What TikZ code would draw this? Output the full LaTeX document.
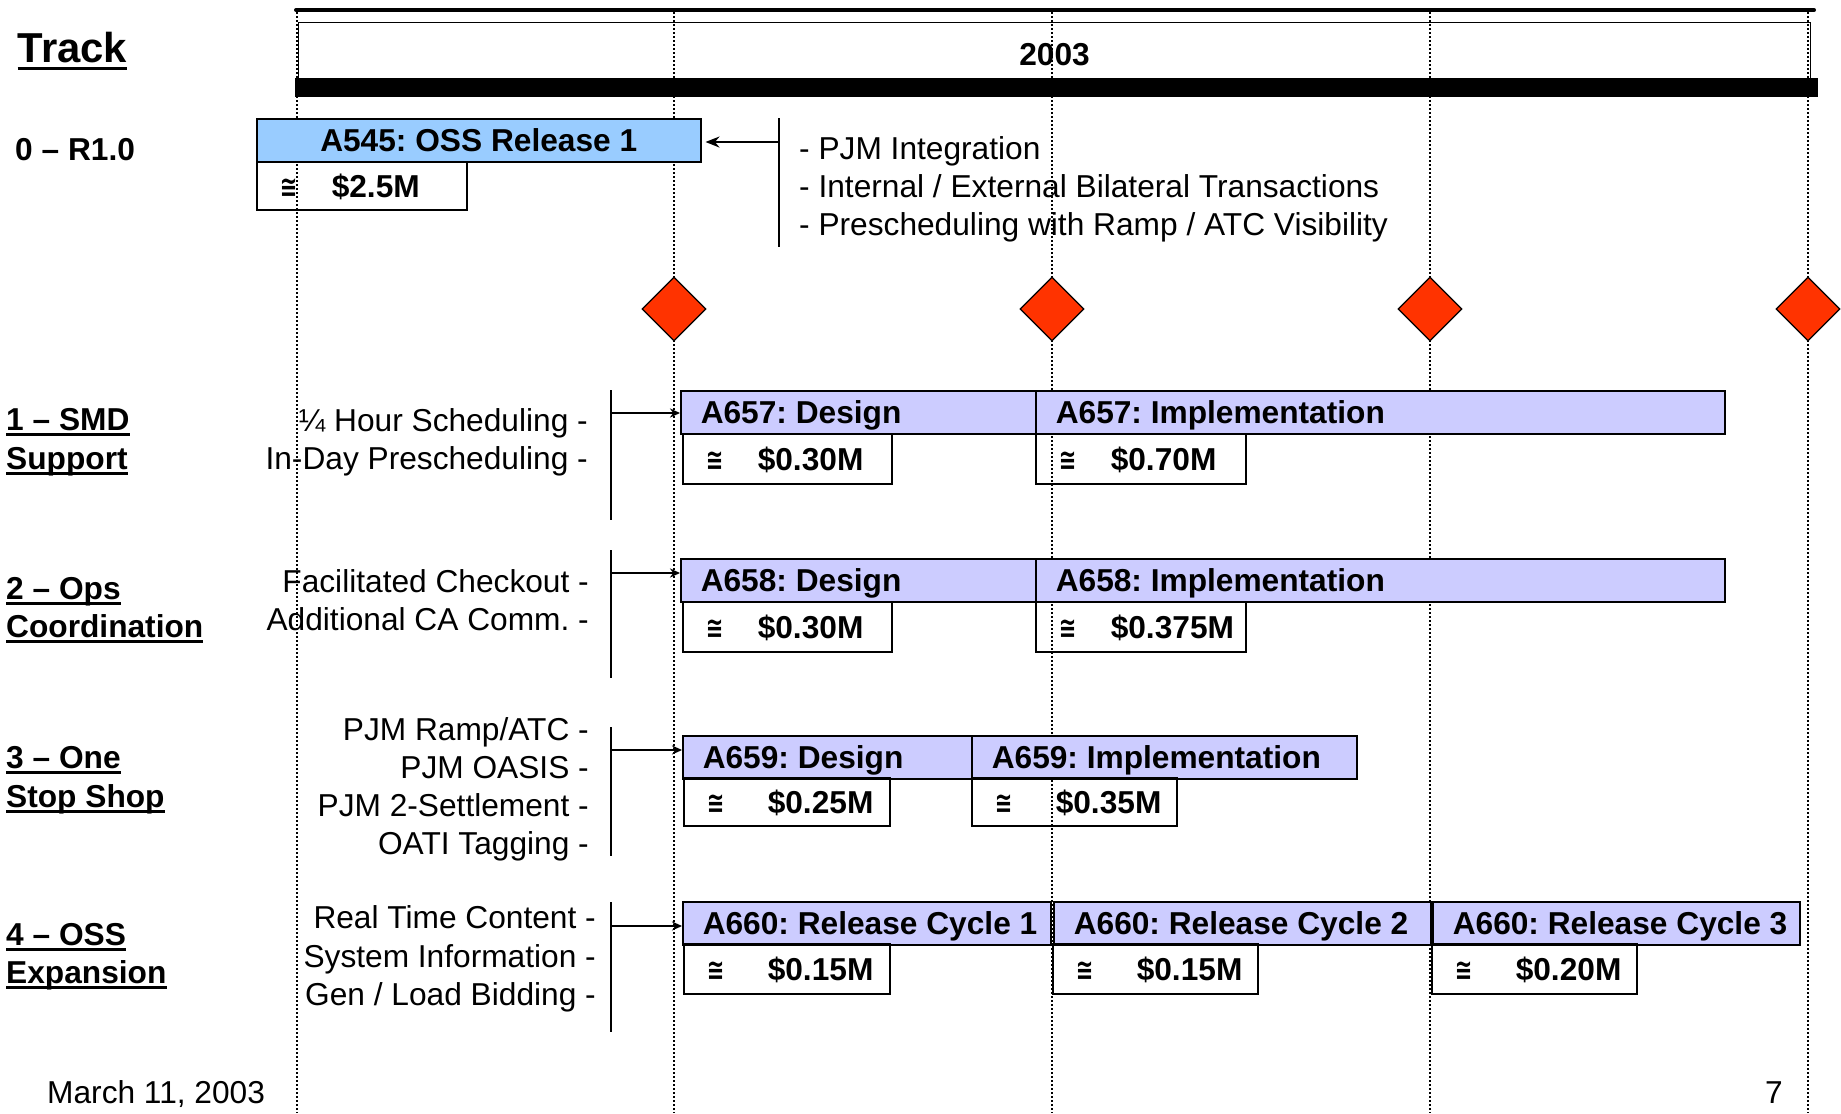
\documentclass[tikz,border=0pt]{standalone}
\usepackage{fontspec}
\setmainfont{Liberation Sans}
\newfontfamily\symfont{DejaVu Sans}
\usetikzlibrary{shapes.geometric,arrows.meta}

\definecolor{barblue}{HTML}{CCCCFF}
\definecolor{relblue}{HTML}{99CCFF}
\definecolor{milestone}{HTML}{FF3300}

\frenchspacing
\newcommand\fs{\fontsize{31.8}{38}\selectfont}
\newcommand\apx{\scalebox{0.7}[1]{{\symfont\bfseries\fontsize{30}{30}\selectfont ≅}}}

% task bar: name, x, y, width, fill, text
\newcommand\taskbar[6]{%
  \pgfmathsetmacro\tw{#4-40}%
  \node[taskbox, fill=#5] (#1) at (#2,#3) {\makebox[\tw bp][l]{#6}};}
% cost box: name, x, y, width, height, gap, amount
\newcommand\costbox[7]{%
  \pgfmathsetmacro\tw{#4-46}%
  \node[costcell, minimum height=#5bp] (#1) at (#2,#3) {\makebox[\tw bp][l]{\makebox[#6bp][l]{\apx}#7}};}
% underlined row title: name, x, baseline, text, drop
\newcommand\rowtitle[5]{%
  \node[title] (#1) at (#2,#3) {#4};
  \draw[line width=3bp] ([yshift=-#5bp]#1.base west) -- ([yshift=-#5bp]#1.base east);}

\tikzset{
  plain/.style={font=\fs, inner sep=0pt},
  title/.style={font=\fs\bfseries, inner sep=0pt, anchor=base west},
  itemL/.style={plain, anchor=base west},
  itemR/.style={plain, anchor=base east},
  taskbox/.style={draw, line width=1.5bp, anchor=north west, minimum height=43bp,
    font=\fs\bfseries, text height=22.8bp, text depth=0pt, inner xsep=20bp,
    inner ysep=0pt},
  costcell/.style={draw, line width=1.5bp, anchor=north west,
    font=\fs\bfseries, text height=22.8bp, text depth=0pt, inner xsep=23bp,
    inner ysep=0pt},
  gridline/.style={line width=1.1bp, dash pattern=on 2bp off 2bp},
  bracket/.style={line width=2bp},
  feed/.style={line width=2bp, -{Stealth[length=10bp,width=9bp]}},
  milestonebox/.style={diamond, draw, line width=1.2bp, fill=milestone,
    minimum width=64bp, minimum height=64bp, inner sep=0pt}
}

\begin{document}
\begin{tikzpicture}[x=1bp,y=-1bp]
\useasboundingbox (0,0) rectangle (1841,1113);

% quarter grid lines
\foreach \gx in {297,674,1052,1430,1808}
  \draw[gridline] (\gx,8) -- (\gx,1113);

% time scale header
\draw[line width=4bp, line cap=round] (296,10) -- (1814,10);
\node[draw, line width=1bp, anchor=north west, minimum width=1512bp,
  minimum height=56bp, inner sep=0pt, font=\fs\bfseries,
  text height=30bp, text depth=0pt] (year) at (298,22) {2003};
\fill (295,78) rectangle (1818,97);

% track column
\rowtitle{track}{17.6}{62}{\fontsize{42}{42}\selectfont Track}{6}
\node[title] (t0) at (15,160) {0 – R1.0};
\rowtitle{t1a}{6}{430}{1 – SMD}{4.5}
\rowtitle{t1b}{6}{469}{Support}{4.5}
\rowtitle{t2a}{6}{599}{2 – Ops}{4.5}
\rowtitle{t2b}{6}{637}{Coordination}{4.5}
\rowtitle{t3a}{6}{768}{3 – One}{4.5}
\rowtitle{t3b}{6}{807}{Stop Shop}{4.5}
\rowtitle{t4a}{6}{945}{4 – OSS}{4.5}
\rowtitle{t4b}{6}{983}{Expansion}{4.5}

% track 0
\node[taskbox, fill=relblue, minimum width=444bp] (a545) at (256,118) {A545: OSS Release 1};
\costbox{c545}{256}{161}{210}{48}{52}{\$2.5M}
\coordinate (b0t) at (779,118);
\coordinate (b0b) at (779,247);
\coordinate (b0m) at (779,142);
\draw[bracket] (b0t) -- (b0b);
\draw[line width=2bp, -{Stealth[length=14bp,width=11bp]}, shorten >=4bp] (b0m) -- (a545.east |- b0m);
\node[itemL] (f0a) at (799,159) {- PJM Integration};
\node[itemL] (f0b) at (799,197) {- Internal / External Bilateral Transactions};
\node[itemL] (f0c) at (799,235) {- Prescheduling with Ramp / ATC Visibility};

% track 1
\taskbar{d657}{680}{390}{355}{barblue}{A657: Design}
\taskbar{i657}{1035}{390}{689}{barblue}{A657: Implementation}
\costbox{cd657}{682}{433}{209}{50}{52}{\$0.30M}
\costbox{ci657}{1035}{433}{210}{50}{52}{\$0.70M}
\node[itemR] (f1a) at (588,431) {¼ Hour Scheduling -};
\node[itemR] (f1b) at (588,469) {In-Day Prescheduling -};
\coordinate (b1t) at (611,390);
\coordinate (b1b) at (611,520);
\coordinate (b1m) at (611,413);
\draw[bracket] (b1t) -- (b1b);
\draw[feed] (b1m) -- (d657.west |- b1m);

% track 2
\taskbar{d658}{680}{558}{355}{barblue}{A658: Design}
\taskbar{i658}{1035}{558}{689}{barblue}{A658: Implementation}
\costbox{cd658}{682}{601}{209}{50}{52}{\$0.30M}
\costbox{ci658}{1035}{601}{210}{50}{52}{\$0.375M}
\node[itemR] (f2a) at (589,592) {Facilitated Checkout -};
\node[itemR] (f2b) at (589,630) {Additional CA Comm. -};
\coordinate (b2t) at (611,550);
\coordinate (b2b) at (611,678);
\coordinate (b2m) at (611,573);
\draw[bracket] (b2t) -- (b2b);
\draw[feed] (b2m) -- (d658.west |- b2m);

% track 3
\taskbar{d659}{682}{735}{289}{barblue}{A659: Design}
\taskbar{i659}{971}{735}{385}{barblue}{A659: Implementation}
\costbox{cd659}{683}{777}{206}{48}{61}{\$0.25M}
\costbox{ci659}{971}{777}{205}{48}{61}{\$0.35M}
\node[itemR] (f3a) at (589,740) {PJM Ramp/ATC -};
\node[itemR] (f3b) at (589,778) {PJM OASIS -};
\node[itemR] (f3c) at (589,816) {PJM 2-Settlement -};
\node[itemR] (f3d) at (589,854) {OATI Tagging -};
\coordinate (b3t) at (611,727);
\coordinate (b3b) at (611,856);
\coordinate (b3m) at (611,750);
\draw[bracket] (b3t) -- (b3b);
\draw[feed] (b3m) -- (d659.west |- b3m);

% track 4
\taskbar{r1}{682}{901}{368}{barblue}{A660: Release Cycle 1}
\taskbar{r2}{1053}{901}{377}{barblue}{A660: Release Cycle 2}
\taskbar{r3}{1432}{901}{367}{barblue}{A660: Release Cycle 3}
\costbox{cr1}{683}{943}{206}{50}{61}{\$0.15M}
\costbox{cr2}{1052}{943}{205}{50}{61}{\$0.15M}
\costbox{cr3}{1431}{943}{205}{50}{61}{\$0.20M}
\node[itemR] (f4a) at (596,928) {Real Time Content -};
\node[itemR] (f4b) at (596,967) {System Information -};
\node[itemR] (f4c) at (596,1005) {Gen / Load Bidding -};
\coordinate (b4t) at (611,902);
\coordinate (b4b) at (611,1032);
\coordinate (b4m) at (611,926);
\draw[bracket] (b4t) -- (b4b);
\draw[feed] (b4m) -- (r1.west |- b4m);

% milestones
\node[milestonebox] (m1) at (674,309) {};
\node[milestonebox] (m2) at (1052,309) {};
\node[milestonebox] (m3) at (1430,309) {};
\node[milestonebox] (m4) at (1808,309) {};

% footer
\node[itemL] (date) at (47,1103) {March 11, 2003};
\node[itemR] (page) at (1783,1103) {7};
\end{tikzpicture}
\end{document}
